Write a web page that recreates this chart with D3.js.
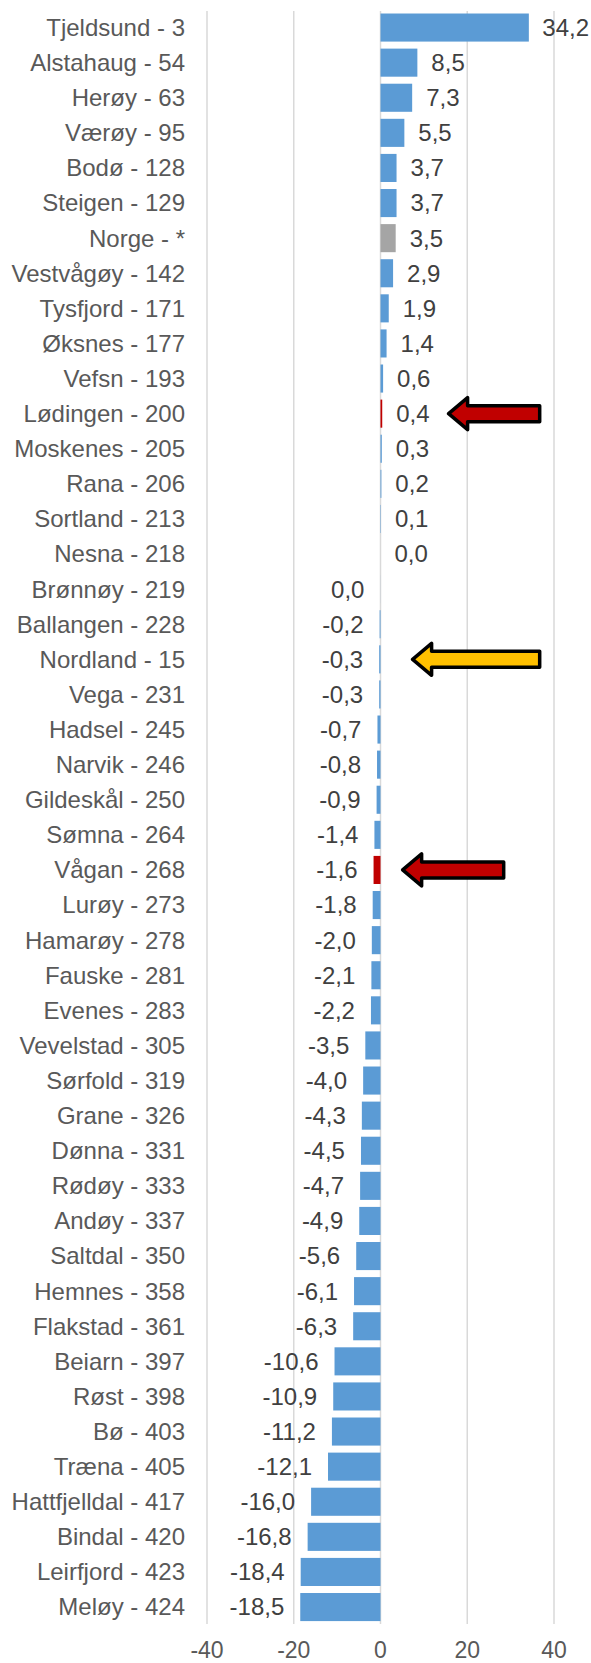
<!DOCTYPE html>
<html>
<head>
<meta charset="utf-8">
<script src="https://cdn.jsdelivr.net/npm/d3@7"></script>
<style>
  body { margin: 0; background: #fff; }
  text { font-family: "Liberation Sans", Arial, sans-serif; }
</style>
</head>
<body>
<svg id="chart"></svg>
<script>
// kommune - rank, and change value
const categories = [
  "Tjeldsund - 3", "Alstahaug - 54", "Herøy - 63", "Værøy - 95", "Bodø - 128",
  "Steigen - 129", "Norge - *", "Vestvågøy - 142", "Tysfjord - 171", "Øksnes - 177",
  "Vefsn - 193", "Lødingen - 200", "Moskenes - 205", "Rana - 206", "Sortland - 213",
  "Nesna - 218", "Brønnøy - 219", "Ballangen - 228", "Nordland - 15", "Vega - 231",
  "Hadsel - 245", "Narvik - 246", "Gildeskål - 250", "Sømna - 264", "Vågan - 268",
  "Lurøy - 273", "Hamarøy - 278", "Fauske - 281", "Evenes - 283", "Vevelstad - 305",
  "Sørfold - 319", "Grane - 326", "Dønna - 331", "Rødøy - 333", "Andøy - 337",
  "Saltdal - 350", "Hemnes - 358", "Flakstad - 361", "Beiarn - 397", "Røst - 398",
  "Bø - 403", "Træna - 405", "Hattfjelldal - 417", "Bindal - 420", "Leirfjord - 423",
  "Meløy - 424"
];
const values = [
  34.2, 8.5, 7.3, 5.5, 3.7,
  3.7, 3.5, 2.9, 1.9, 1.4,
  0.6, 0.4, 0.3, 0.2, 0.1,
  0.0, -0.01, -0.2, -0.3, -0.3,
  -0.7, -0.8, -0.9, -1.4, -1.6,
  -1.8, -2.0, -2.1, -2.2, -3.5,
  -4.0, -4.3, -4.5, -4.7, -4.9,
  -5.6, -6.1, -6.3, -10.6, -10.9,
  -11.2, -12.1, -16.0, -16.8, -18.4,
  -18.5
];
const xTicks = [-40, -20, 0, 20, 40];
const redBars = ["Lødingen - 200", "Vågan - 268"];
const grayBars = ["Norge - *"];
// arrows: row, tip and tail in axis units
const arrowRows = ["Lødingen - 200", "Nordland - 15", "Vågan - 268"];
const arrowTips = [15.7, 7.4, 5.1];
const arrowTails = [36.7, 36.7, 28.4];
const arrowColors = ["#C00000", "#FFC000", "#C00000"];

const width = 591, height = 1663;
const svg = d3.select("#chart").attr("width", width).attr("height", height);

const x = d3.scaleLinear().domain([-40, 40]).range([207, 554]);
const y = d3.scaleBand().domain(categories).range([10, 1624.6])
    .paddingInner(0.2).paddingOuter(0.1);

// Excel style: comma decimal, plain hyphen, no "-0,0"
const fmt = v => {
  let s = d3.format(".1f")(v).replace("\u2212", "-");
  if (s === "-0.0") s = "0.0";
  return s.replace(".", ",");
};

// gridlines
svg.append("g")
  .selectAll("line")
  .data(xTicks)
  .enter()
  .append("line")
    .attr("x1", d => x(d))
    .attr("x2", d => x(d))
    .attr("y1", 11)
    .attr("y2", 1624)
    .attr("stroke", "#D9D9D9")
    .attr("stroke-width", 1.5);

// bars
svg.append("g")
  .selectAll("rect")
  .data(categories)
  .enter()
  .append("rect")
    .attr("x", (d, i) => x(Math.min(0, values[i])))
    .attr("y", d => y(d))
    .attr("width", (d, i) => Math.abs(x(values[i]) - x(0)))
    .attr("height", y.bandwidth())
    .attr("fill", d => redBars.includes(d) ? "#C00000" :
      grayBars.includes(d) ? "#A5A5A5" : "#5B9BD5");

// category labels
svg.append("g")
  .selectAll("text")
  .data(categories)
  .enter()
  .append("text")
    .attr("x", 185)
    .attr("y", d => y(d) + y.bandwidth() / 2)
    .attr("dy", "0.35em")
    .attr("text-anchor", "end")
    .attr("font-size", 24)
    .attr("fill", "#595959")
    .text(d => d);

// value labels
svg.append("g")
  .selectAll("text")
  .data(categories)
  .enter()
  .append("text")
    .attr("y", d => y(d) + y.bandwidth() / 2)
    .attr("dy", "0.35em")
    .attr("font-size", 24)
    .attr("fill", "#404040")
    .attr("text-anchor", (d, i) => values[i] >= 0 ? "start" : "end")
    .attr("x", (d, i) => values[i] >= 0 ? x(values[i]) + 14 : x(values[i]) - 16)
    .text((d, i) => fmt(values[i]))
    .each(function(d, i) {
      // keep labels inside the picture
      const w = this.getComputedTextLength();
      const x0 = +d3.select(this).attr("x");
      if (values[i] >= 0 && x0 + w > width - 2) {
        d3.select(this).attr("x", width - 2 - w);
      }
    });

// x axis labels
svg.append("g")
  .selectAll("text")
  .data(xTicks)
  .enter()
  .append("text")
    .attr("x", d => x(d))
    .attr("y", 1658)
    .attr("text-anchor", "middle")
    .attr("font-size", 23)
    .attr("fill", "#595959")
    .text(d => d);

// arrows
svg.append("g")
  .selectAll("path")
  .data(arrowRows)
  .enter()
  .append("path")
    .attr("d", (d, i) => {
      const yc = y(d) + y.bandwidth() / 2;
      const tip = x(arrowTips[i]), tail = x(arrowTails[i]);
      const head = 19, hh = 16, sh = 8;
      return "M" + tip + "," + yc +
        "L" + (tip + head) + "," + (yc - hh) +
        "L" + (tip + head) + "," + (yc - sh) +
        "L" + tail + "," + (yc - sh) +
        "L" + tail + "," + (yc + sh) +
        "L" + (tip + head) + "," + (yc + sh) +
        "L" + (tip + head) + "," + (yc + hh) + "Z";
    })
    .attr("fill", (d, i) => arrowColors[i])
    .attr("stroke", "#000")
    .attr("stroke-width", 3.5)
    .attr("stroke-linejoin", "round");
</script>
</body>
</html>
